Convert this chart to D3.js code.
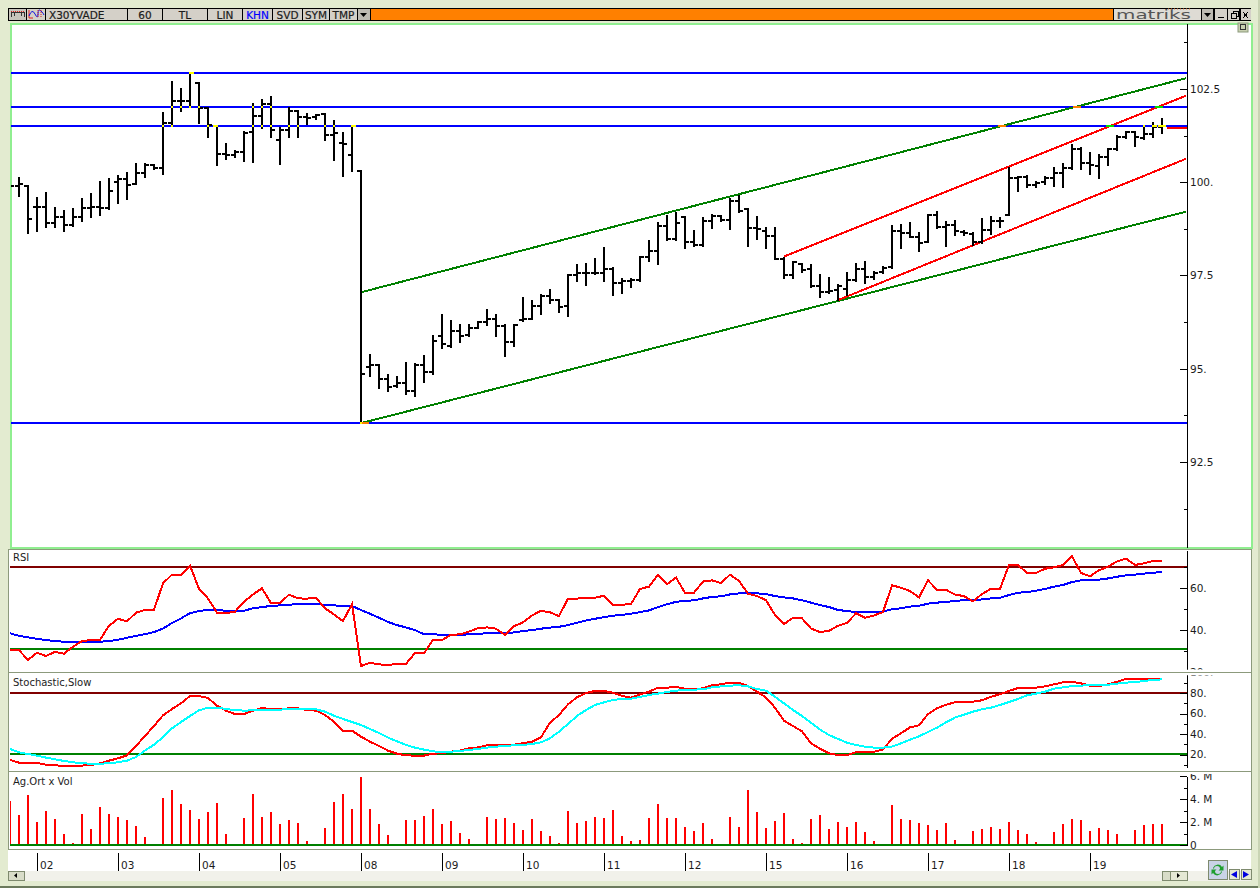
<!DOCTYPE html>
<html>
<head>
<meta charset="utf-8">
<title>X30YVADE</title>
<script src="https://cdn.jsdelivr.net/npm/d3@7"></script>
<style>
  html, body { margin: 0; padding: 0; background: #E3EBD0; overflow: hidden; }
  svg { display: block; }
  text { font-family: "DejaVu Sans", sans-serif; font-size: 10px; fill: #1c1c1c; }
  .axis text { font-size: 10.5px; }
  .axis path, .axis line { stroke: #000; shape-rendering: crispEdges; }
  .btn text { font-size: 10.5px; stroke: #1c1c1c; stroke-width: 0.2; text-anchor: middle; }
</style>
</head>
<body>
<div id="chart"></div>
<script>
// 60 minute bars, one per 9px slot
const highs = [100.02,100.11,99.91,99.57,99.70,99.30,99.23,99.28,99.54,99.68,100.00,100.08,100.18,100.24,100.49,100.49,100.45,101.85,102.69,102.49,102.94,102.65,101.98,101.51,101.02,100.85,101.34,102.09,102.20,102.28,101.45,102.00,101.92,101.82,101.81,101.82,101.63,101.31,101.51,100.31,
  95.36,95.11,94.82,94.77,95.15,95.12,95.34,95.89,96.43,96.27,96.17,96.16,96.26,96.58,96.43,96.17,96.16,96.89,96.81,96.97,97.11,96.83,97.52,97.78,97.81,97.93,98.23,97.69,97.41,97.40,98.00,98.42,98.92,99.10,99.17,99.08,98.69,99.05,99.11,99.10,99.54,99.63,99.28,99.06,
  98.77,98.78,97.98,97.87,97.81,97.78,97.51,97.43,97.25,97.56,97.81,97.85,97.59,97.72,98.83,98.86,98.90,98.63,99.12,99.21,98.93,98.96,98.68,98.63,99.02,99.08,99.05,100.39,100.15,100.18,100.00,100.13,100.38,100.48,101.00,100.91,100.78,100.72,100.89,101.24,101.36,101.36,101.51,101.58,101.69];
const lows = [99.80,99.62,98.63,98.68,98.79,98.81,98.68,98.84,98.97,99.08,99.11,99.28,99.44,99.56,99.95,100.15,100.35,100.21,101.51,101.90,102.03,101.60,101.22,100.46,100.63,100.69,100.58,100.55,101.45,101.20,100.49,101.22,101.20,101.57,101.70,101.12,100.60,100.18,100.31,93.54,
  94.81,94.48,94.41,94.52,94.31,94.28,94.65,94.86,95.55,95.59,95.73,95.89,96.08,96.17,95.89,95.35,95.62,96.29,96.33,96.46,96.75,96.53,96.42,97.34,97.25,97.53,97.34,96.98,97.04,97.18,97.35,97.90,97.81,98.45,98.44,98.25,98.29,98.30,98.78,98.97,98.75,99.19,98.29,98.48,
  98.23,97.94,97.43,97.43,97.60,97.20,96.93,97.02,96.84,96.98,97.34,97.31,97.41,97.56,97.69,98.25,98.52,98.17,98.39,98.77,98.30,98.59,98.59,98.32,98.36,98.61,98.79,99.11,99.77,99.88,99.86,99.96,99.91,99.88,100.36,100.36,100.21,100.11,100.46,100.87,101.19,100.98,101.15,101.20,101.31];
const opens = [99.90,99.90,99.91,99.33,99.33,98.92,99.08,98.86,99.08,99.32,99.33,99.32,100.00,100.10,99.96,100.25,100.45,100.39,101.58,102.19,102.17,102.65,101.98,101.51,100.76,100.72,100.82,101.36,101.78,102.09,101.14,101.40,101.90,101.76,101.76,101.82,101.28,101.06,100.72,100.31,
  95.04,95.11,94.73,94.54,94.63,94.41,95.11,94.90,95.89,95.62,96.02,95.91,96.10,96.24,96.32,96.14,95.72,96.31,96.33,96.68,96.95,96.83,96.67,97.51,97.57,97.57,97.57,97.68,97.30,97.34,97.39,98.00,98.16,98.83,98.48,99.08,98.39,98.32,98.95,99.09,99.00,99.50,99.28,98.77,
  98.69,98.57,97.94,97.51,97.81,97.68,97.23,97.07,97.11,97.13,97.38,97.68,97.47,97.59,97.72,98.68,98.65,98.54,98.41,99.11,98.81,98.86,98.66,98.61,98.39,98.72,98.96,99.12,100.11,100.13,99.93,100.00,100.11,100.24,100.39,100.89,100.51,100.44,100.69,100.89,101.22,101.34,101.18,101.30,101.49];
const closes = [99.90,99.95,99.02,99.33,98.92,99.08,98.86,99.08,99.32,99.33,99.32,99.77,100.10,99.93,100.25,100.45,100.39,101.58,102.19,102.17,102.94,101.98,101.54,100.76,100.72,100.82,101.31,101.78,102.09,101.40,101.40,101.90,101.76,101.72,101.80,101.28,101.31,101.02,101.51,94.86,
  95.11,94.73,94.52,94.63,94.41,95.11,94.92,95.75,95.66,96.02,95.89,96.10,96.24,96.32,96.14,95.72,96.16,96.33,96.68,96.95,96.83,96.65,97.51,97.57,97.57,97.57,97.68,97.30,97.34,97.39,98.00,98.16,98.83,98.48,98.92,98.39,98.32,98.95,99.09,99.00,99.50,99.24,98.77,98.74,
  98.57,97.94,97.51,97.85,97.65,97.23,97.07,97.09,97.23,97.38,97.68,97.47,97.56,97.69,98.70,98.65,98.54,98.36,99.11,98.81,98.86,98.68,98.63,98.39,98.72,98.96,98.95,100.11,100.13,99.93,99.97,100.11,100.24,100.39,100.89,100.51,100.45,100.69,100.88,101.22,101.36,101.20,101.30,101.49,101.51];

const rsiValues = [30.3,30.3,25.6,29.1,27.5,29.5,28.6,31.9,34.6,35.1,35.2,41.9,45.2,44,48.1,49.5,49.5,62.1,66.2,66.2,70.5,59.5,54.9,48.1,47.9,48.6,53.3,56.8,59.7,52.7,52.7,56.7,54.9,54.8,55.2,50.2,47.3,44.1,52.2,22.7,24.3,23.5,23.3,23.7,23.8,28.9,28.9,35.1,35.1,37.6,37.8,39.1,40.8,41.1,40.5,37.5,41.7,43.5,46.8,49,48.3,46.5,54.8,54.8,55.2,55.2,56.2,51.9,51.9,52.2,59.4,60.5,66.2,61.7,64.8,57.6,57.6,62.9,63.5,62.2,66.2,63.3,57.1,56,54.1,47,42.7,45.7,45.4,40.6,38.9,39.5,41.9,43.3,47.8,45.7,46.8,48.4,61.1,60,58.4,55.4,63.5,59,59,56.7,56,53.5,57,59.5,59.4,70.8,70.8,67,67,69,69.7,70.8,74.9,67,65.4,68.3,70,72.5,73.8,70.8,71.6,72.7,72.9];
const rsiAverage = [38.3,37.1,36.4,35.7,35.1,34.6,34.3,34.1,34.1,34.3,34.3,34.6,35.2,36.2,37.1,37.9,38.9,40.6,43.2,45.4,47.9,48.9,49.4,49.4,49,48.9,49,50.2,50.8,51.3,51.6,51.9,52.2,52.2,52.2,51.9,51.6,51.3,51.3,49.4,47.6,45.7,43.7,42.2,41.1,39.8,37.9,37.9,37.5,37.5,37.6,37.8,38.1,38.3,38.4,38.4,38.7,39.4,39.8,40.5,41,41.4,42.2,43.3,44.4,45.2,46,46.7,47.1,47.6,48.4,49.2,50.8,52.1,53.3,53.7,54,54.9,55.6,55.9,56.8,57.3,57.6,57.3,57,56,55.4,54.9,54,52.9,51.7,50.8,49.4,48.9,48.4,48.4,48.4,48.6,49.8,50.2,51,51.4,52.4,52.9,53.2,53.7,54.1,54.1,54.4,54.9,55.2,56.5,57.6,57.9,58.6,59.4,60.5,61.3,62.7,63.5,63.8,63.8,64.4,65.2,65.9,66.2,66.7,67.1,67.5];
const stochK = [14.7,12.1,11.8,11.8,10.1,9.5,8.8,8.8,9.2,9.8,11.4,14,16.3,19.2,28.3,38.1,47.8,58.2,64.4,69.9,77.1,77.1,75.1,67.6,62.8,59.5,59.5,62.8,65.4,64.1,64.1,65.1,65.1,63.4,62.8,58.5,52,43.3,43.3,37.4,32.5,28.3,23.8,20.8,19.2,18.9,18.9,20.8,21.2,22.8,23.8,26,27,29,29.3,29.3,29.6,31,32.5,36.8,51.1,58.5,69,75.8,80,82,82,80.3,77.1,75.5,78.7,81.3,85.2,85.2,85.9,84.2,83.6,84.6,87.5,88.5,90.1,90.1,86.8,81.3,75.5,65.7,53,47.8,42.6,31,25.7,21.2,19.5,19.5,22.2,22.5,22.8,24.8,35.5,40.7,46.5,48.5,59.5,65.1,68.6,70.9,71.6,71.6,72.9,76.4,78.7,82,84.9,85.2,85.2,86.5,88.5,90.4,91,89.4,87.2,86.8,88.5,91,93.7,93.7,93.7,93.7,94];
const stochD = [25.4,22.1,20.5,18.9,17,15.3,13.7,12.4,11.4,11.1,11.1,11.4,12.4,14,17.6,23.8,29.6,36.8,45.5,51.7,57.6,63.1,65.7,65.7,64.4,63.4,62.8,63.1,63.4,63.8,63.8,64.4,64.7,64.4,64.1,61.8,57.9,54.7,51.7,48.8,44.9,41,36.5,32.9,29.3,26.7,24.8,23.1,22.5,22.8,23.5,24.4,25.4,26.7,27.7,28.3,29,29.3,30.3,31.9,35.8,42.3,49.8,57.6,63.4,68.3,70.9,73.2,74.2,74.5,76.1,78,79.4,81,82.3,82.9,83.3,83.6,85.5,86.5,87.2,87.5,86.5,83.9,82.3,76.4,69.9,63.4,57.6,51.1,44.3,39,35.2,31.6,29.3,27.7,26.7,26.7,27.7,30.9,34.5,37.8,42,46.2,51.4,56,58.9,61.8,64.1,65.7,68.3,71.2,74.2,77.7,79.4,81.3,84.2,85.5,86.8,87.2,87.8,87.5,88.1,89.1,90.1,90.7,91.7,92.7,93.3];
const volumes = [3.86,2.61,4.35,2.0,2.96,2.26,0.96,0.17,2.70,1.39,3.30,2.70,2.43,2.17,1.65,0.70,0.06,4.09,4.78,3.57,3.04,2.26,2.87,3.65,0.96,0.09,2.35,4.43,2.43,2.87,1.83,2.17,1.91,0.35,0.09,1.48,3.74,4.43,3.13,5.91,3.13,1.83,0.87,0.09,2.17,2.17,2.52,3.13,1.83,2.09,1.04,0.52,0.09,2.43,2.26,2.35,1.91,1.30,2.26,1.22,0.78,0.17,2.96,1.91,2.09,2.43,2.35,3.04,0.78,0.35,0.43,2.35,3.57,2.35,2.35,1.57,1.22,1.91,0.52,0.09,2.43,1.57,4.78,2.87,1.48,2.09,2.78,0.52,0.17,2.26,2.61,1.39,2.0,1.57,2.0,1.13,0.35,0.09,3.48,2.26,2.17,1.91,1.74,1.30,1.91,0.43,0.06,1.22,1.39,1.57,1.39,2.0,1.30,0.96,0.26,0.09,1.13,1.83,2.26,2.17,1.22,1.48,1.30,0.96,0.09,1.30,1.74,1.83,1.83];

const dayIndex = [3,12,21,30,39,48,57,66,75,84,93,102,111,120];
const dayLabels = ["02","03","04","05","08","09","10","11","12","15","16","17","18","19"];
const priceLevels = [102.93,102.03,101.51,93.54];
const lastPrice = 101.49;
// trend lines: start bar, start price, end bar, end price
const greenTrends = [[39,97.05,130.67,102.79],[39,93.54,130.67,99.21]];
const redTrends = [[86,98.01,130.67,102.32],[92,96.84,130.67,100.63]];
const priceTicks = [102.5,100,97.5,95,92.5];
const priceMinor = [103.75,101.25,98.75,96.25,93.75,91.25];
const rsiTicks = [60,40,20];
const rsiMinor = [70,50,30];
const rsiLevels = [70,30.8];
const stochTicks = [100,80,60,40,20];
const stochMinor = [90,70,50,30,10];
const stochLevels = [80,20.5];
const volTicks = [6,4,2,0];
const volMinor = [5,3,1];
const toolbarLabels = ["X30YVADE","60","TL","LIN","KHN","SVD","SYM","TMP"];
const toolbarX = [46,128,163,208,243,273,303,330];
const toolbarW = [81,34,44,34,29,29,26,27];

const W = 1260, H = 888, axisX = 1187;
const svg = d3.select('#chart').append('svg').attr('width', W).attr('height', H);
const crisp = 'crispEdges';
const plain = (sel) => sel.attr('shape-rendering', crisp);

const x = d3.scaleLinear().domain([0, 128]).range([10, 1162]);
const yPrice = d3.scaleLinear().domain([90.22, 104.27]).range([547, 23]);
const yRsi = d3.scaleLinear().domain([19.9, 78.4]).range([672, 549]);
const yStoch = d3.scaleLinear().domain([5, 100]).range([769.9, 672.5]);
const yVol = d3.scaleLinear().domain([0, 6]).range([845, 776]);

// window chrome
svg.append('rect').attr('width', W).attr('height', H).attr('fill', '#E3EBD0');
svg.append('rect').attr('x', 0).attr('y', 886).attr('width', W).attr('height', 2).attr('fill', '#6B7A5C');
svg.append('rect').attr('x', 1258).attr('y', 0).attr('width', 2).attr('height', H).attr('fill', '#C9D4B4');

// panel backgrounds
const panels = [[10, 23, 1241, 524, '#90EE90', 2], [8, 549, 1243, 123, '#8C9A7C', 1.5], [8, 672, 1243, 99, '#8C9A7C', 1.5], [8, 771, 1243, 78, '#8C9A7C', 1.5]];
svg.selectAll('rect.panel').data(panels).enter().append('rect').attr('class', 'panel')
  .attr('x', d => d[0] + 0.5).attr('y', d => d[1] + 0.5).attr('width', d => d[2]).attr('height', d => d[3])
  .attr('fill', '#fff').attr('stroke', d => d[4]).attr('stroke-width', d => d[5]).call(plain);
svg.append('rect').attr('x', 8).attr('y', 850).attr('width', 1243).attr('height', 21).attr('fill', '#fff');
svg.append('rect').attr('x', 8).attr('y', 871).attr('width', 1243).attr('height', 10).attr('fill', '#F1F1EA');

// toolbar
svg.append('rect').attr('x', 8).attr('y', 8).attr('width', 1243).attr('height', 13).attr('fill', '#000');
svg.append('rect').attr('x', 371).attr('y', 9).attr('width', 742).attr('height', 11).attr('fill', '#FF8000');
const btn = svg.selectAll('g.btn').data(toolbarLabels).enter().append('g').attr('class', 'btn');
btn.append('rect').attr('x', (d, i) => toolbarX[i]).attr('y', 9).attr('width', (d, i) => toolbarW[i]).attr('height', 11).attr('fill', '#D4D0C8');
btn.append('text').attr('x', (d, i) => i === 0 ? toolbarX[i] + 3 : toolbarX[i] + toolbarW[i] / 2).attr('y', 19)
  .style('text-anchor', (d, i) => i === 0 ? 'start' : 'middle').style('fill', d => d === 'KHN' ? '#0000FF' : '#1c1c1c')
  .style('stroke', d => d === 'KHN' ? '#0000FF' : '#1c1c1c').text(d => d);
[[9, 17, '#C8C4BC'], [27, 18, '#D4D0C8'], [358, 12, '#BDBAB2'], [1202, 11, '#BDBAB2'], [1215, 12, '#D4D0C8'], [1228, 11, '#D4D0C8'], [1241, 10, '#D4D0C8']].forEach(b => {
  svg.append('rect').attr('x', b[0]).attr('y', 9).attr('width', b[1]).attr('height', 11).attr('fill', b[2]);
});
svg.append('rect').attr('x', 1114).attr('y', 9).attr('width', 87).attr('height', 11).attr('fill', '#DEDBD4');
svg.append('text').attr('x', 1116).attr('y', 18.5).attr('textLength', 75).attr('lengthAdjust', 'spacingAndGlyphs')
  .style('font-size', '12.5px').style('fill', '#555').text('matriks');
svg.append('path').attr('d', 'M1168 9h24').attr('stroke', '#E8803C').attr('stroke-dasharray', '1 2').attr('fill', 'none');
svg.append('path').attr('d', 'M360 13h7l-3.5 4z M1204 13h7l-3.5 4z').attr('fill', '#000');
svg.append('path').attr('d', 'M1218 17h6M1231 13h5v5h-5zM1233 13v-2h5v5h-2M1243 12l5 6M1248 12l-5 6').attr('stroke', '#000').attr('fill', 'none').call(plain);
// the two little chart icons on the left
svg.append('path').attr('d', 'M11 17v-5h13v5M14 13v3M21 13v3').attr('stroke', '#333').attr('fill', 'none').call(plain);
svg.append('path').attr('d', 'M11 11h13').attr('stroke', '#E02020').attr('stroke-dasharray', '1 1').attr('fill', 'none').call(plain);
svg.append('path').attr('d', 'M29 10v8h4').attr('stroke', '#E02020').attr('fill', 'none');
svg.append('path').attr('d', 'M29 16q3 -8 6 -2t3 0t3 -3t3 4').attr('stroke', '#1010E0').attr('fill', 'none');
svg.append('path').attr('d', 'M38 10v8M41 10v8').attr('stroke', '#E02020').attr('stroke-dasharray', '1 1').attr('fill', 'none');
// small restore box under the title bar
svg.append('rect').attr('x', 1238).attr('y', 23).attr('width', 10).attr('height', 9).attr('fill', '#C8D0B0').attr('stroke', '#8C9A7C');
svg.append('rect').attr('x', 1240.5).attr('y', 24.5).attr('width', 5).attr('height', 5).attr('fill', 'none').attr('stroke', '#333');

// clips
const addClip = (id, x0, y0, w, h) => svg.append('clipPath').attr('id', id).append('rect').attr('x', x0).attr('y', y0).attr('width', w).attr('height', h);
addClip('plotClip', 11, 24, axisX - 11, 522);
addClip('rsiClip', 10, 550, axisX - 10, 121);
addClip('stochClip', 10, 673, axisX - 10, 97);
addClip('volClip', 10, 772, axisX - 10, 76);
addClip('rsiAxis', 1170, 551, 60, 118.5);
addClip('stochAxis', 1170, 675.5, 60, 92.5);
addClip('volAxis', 1170, 774, 60, 75);

// price panel
const plot = svg.append('g').attr('clip-path', 'url(#plotClip)');
plot.selectAll('line.level').data(priceLevels).enter().append('line').attr('class', 'level')
  .attr('x1', 10).attr('x2', axisX).attr('y1', d => yPrice(d)).attr('y2', d => yPrice(d))
  .attr('stroke', '#0000FF').attr('stroke-width', 2).call(plain);

const drawTrends = (rows, color) => plot.selectAll('line.t' + color.slice(1)).data(rows).enter().append('line').attr('class', 't' + color.slice(1))
  .attr('x1', d => x(d[0])).attr('y1', d => yPrice(d[1])).attr('x2', d => x(d[2])).attr('y2', d => yPrice(d[3]))
  .attr('stroke', color).attr('stroke-width', 2).call(plain);
drawTrends(greenTrends, '#008000');
drawTrends(redTrends, '#FF0000');

plot.append('line').attr('x1', x(128) + 5).attr('x2', axisX).attr('y1', yPrice(lastPrice) + 1).attr('y2', yPrice(lastPrice) + 1)
  .attr('stroke', '#FF0000').attr('stroke-width', 2).call(plain);

// coloured xor pixels where the trend lines cross the levels
const crossings = (rows, color) => rows.forEach(r => priceLevels.forEach(level => {
  const t = (level - r[1]) / (r[3] - r[1]);
  if (t < 0 || t > 1) return;
  const cx = Math.max(x(r[0] + t * (r[2] - r[0])) - 4, x(r[0]));
  plot.append('line').attr('x1', cx).attr('x2', cx + 8).attr('y1', yPrice(level)).attr('y2', yPrice(level))
    .attr('stroke', color).attr('stroke-width', 2).call(plain);
}));
crossings(greenTrends, '#FF8000');
crossings(redTrends, '#00E000');

const barIdx = d3.range(highs.length);
const bars = plot.selectAll('g.bar').data(barIdx).enter().append('g').attr('class', 'bar').attr('stroke', '#000').attr('stroke-width', 2);
bars.append('line').attr('x1', i => x(i)).attr('x2', i => x(i)).attr('y1', i => yPrice(highs[i]) - 1).attr('y2', i => yPrice(lows[i]) + 1).call(plain);
bars.append('line').attr('x1', i => x(i) - 4).attr('x2', i => x(i)).attr('y1', i => yPrice(opens[i])).attr('y2', i => yPrice(opens[i])).call(plain);
bars.append('line').attr('x1', i => x(i)).attr('x2', i => x(i) + 4).attr('y1', i => yPrice(closes[i])).attr('y2', i => yPrice(closes[i])).call(plain);

// yellow xor pixels where a bar sits on a blue level
priceLevels.forEach(level => barIdx.forEach(i => {
  if (highs[i] + 0.02 < level || lows[i] - 0.02 > level) return;
  const y0 = yPrice(level);
  plot.append('rect').attr('x', x(i) - 1).attr('y', y0 - 1).attr('width', 2).attr('height', 2).attr('fill', '#FFFF00').call(plain);
  if (Math.abs(closes[i] - level) < 0.03) plot.append('rect').attr('x', x(i)).attr('y', y0 - 1).attr('width', 4).attr('height', 2).attr('fill', '#FFFF00').call(plain);
  if (Math.abs(opens[i] - level) < 0.03) plot.append('rect').attr('x', x(i) - 4).attr('y', y0 - 1).attr('width', 4).attr('height', 2).attr('fill', '#FFFF00').call(plain);
}));

// oscillator panels
const series = (g, values, scale, color) => g.append('path').datum(values)
  .attr('d', d3.line().x((d, i) => x(i)).y(d => scale(d)))
  .attr('fill', 'none').attr('stroke', color).attr('stroke-width', 2).call(plain);
const hLines = (g, levels, scale) => g.selectAll('line.lv').data(levels).enter().append('line').attr('class', 'lv')
  .attr('x1', 10).attr('x2', axisX).attr('y1', d => scale(d)).attr('y2', d => scale(d))
  .attr('stroke', (d, i) => i === 0 ? '#800000' : '#008000').attr('stroke-width', 2).call(plain);

const rsi = svg.append('g').attr('clip-path', 'url(#rsiClip)');
hLines(rsi, rsiLevels, yRsi);
series(rsi, rsiAverage, yRsi, '#0000FF');
series(rsi, rsiValues, yRsi, '#FF0000');

const stoch = svg.append('g').attr('clip-path', 'url(#stochClip)');
hLines(stoch, stochLevels, yStoch);
series(stoch, stochK, yStoch, '#FF0000');
series(stoch, stochD, yStoch, '#00FFFF');

const vol = svg.append('g').attr('clip-path', 'url(#volClip)');
vol.selectAll('line.v').data(volumes).enter().append('line').attr('class', 'v')
  .attr('x1', (d, i) => x(i)).attr('x2', (d, i) => x(i)).attr('y1', d => yVol(d)).attr('y2', yVol(0))
  .attr('stroke', '#FF0000').attr('stroke-width', 2).call(plain);
vol.append('line').attr('x1', 10).attr('x2', axisX).attr('y1', yVol(0)).attr('y2', yVol(0))
  .attr('stroke', '#008000').attr('stroke-width', 2).call(plain);

svg.append('text').attr('x', 13).attr('y', 561).text('RSI');
svg.append('text').attr('x', 13).attr('y', 686).text('Stochastic,Slow');
svg.append('text').attr('x', 13).attr('y', 785).text('Ag.Ort x Vol');

// value axes on the right
const numFmt = d => Number.isInteger(d) ? d + '.' : String(d);
const valueAxis = (scale, major, minor, fmt, clip) => {
  const g = svg.append('g').attr('class', 'axis');
  if (clip) g.attr('clip-path', `url(#${clip})`);
  const inner = g.append('g').attr('transform', `translate(${axisX},0)`);
  inner.call(d3.axisRight(scale).tickValues(major).tickSize(-7).tickSizeOuter(0).tickPadding(3).tickFormat(fmt));
  inner.append('g').call(d3.axisRight(scale).tickValues(minor).tickSize(-3).tickSizeOuter(0).tickFormat(''));
  inner.selectAll('text').style('fill', '#1c1c1c').style('font-family', '"DejaVu Sans", sans-serif');
};
valueAxis(yPrice, priceTicks, priceMinor, numFmt);
valueAxis(yRsi, rsiTicks, rsiMinor, numFmt, 'rsiAxis');
valueAxis(yStoch, stochTicks, stochMinor, numFmt, 'stochAxis');
valueAxis(yVol, volTicks, volMinor, d => d === 0 ? '0' : d + '. M', 'volAxis');

// day axis
const dayAxis = svg.append('g').attr('class', 'axis').attr('transform', 'translate(0,853)')
  .call(d3.axisBottom(x).tickValues(dayIndex).tickSize(18).tickFormat((d, i) => dayLabels[i]));
dayAxis.select('.domain').remove();
dayAxis.selectAll('text').attr('x', 2.5).attr('y', 8.5).attr('dy', '0.71em').style('text-anchor', 'start').style('font-family', '"DejaVu Sans", sans-serif');

// scrollbar and buttons
const sb = svg.append('g');
sb.append('rect').attr('x', 8).attr('y', 871).attr('width', 16).attr('height', 9).attr('fill', '#D8DCC8').attr('stroke', '#7E8A6E').call(plain);
sb.append('path').attr('d', 'M14 875.5l3 -2.5v5z').attr('fill', '#000');
sb.append('rect').attr('x', 1162).attr('y', 871).attr('width', 8).attr('height', 9).attr('fill', '#D8DCC8').attr('stroke', '#7E8A6E').call(plain);
sb.append('rect').attr('x', 1170).attr('y', 871).attr('width', 17).attr('height', 9).attr('fill', '#E4E8D4').attr('stroke', '#7E8A6E').call(plain);
sb.append('path').attr('d', 'M1177 873l3 2.5l-3 2.5z').attr('fill', '#000');
sb.append('rect').attr('x', 1208).attr('y', 860).attr('width', 19).attr('height', 19).attr('fill', '#C9D3E6').attr('stroke', '#7E8A6E').call(plain);
sb.append('path').attr('d', 'M1213 868a5 5 0 0 1 9 -1l1.5 -1.5v5h-5l1.5 -1.5a3 3 0 0 0 -6 0z').attr('fill', '#1E9E2E');
sb.append('path').attr('d', 'M1222 872a5 5 0 0 1 -9 1l-1.5 1.5v-5h5l-1.5 1.5a3 3 0 0 0 6 0z').attr('fill', '#1E9E2E');
[[1229, 'M1237 871v7l-6 -3.5z'], [1241, 'M1243 871v7l6 -3.5z']].forEach(b => {
  sb.append('rect').attr('x', b[0]).attr('y', 869).attr('width', 10).attr('height', 10).attr('fill', '#E4E8D4').attr('stroke', '#7E8A6E').call(plain);
  sb.append('path').attr('d', b[1]).attr('fill', '#0000E0');
});
</script>
</body>
</html>
